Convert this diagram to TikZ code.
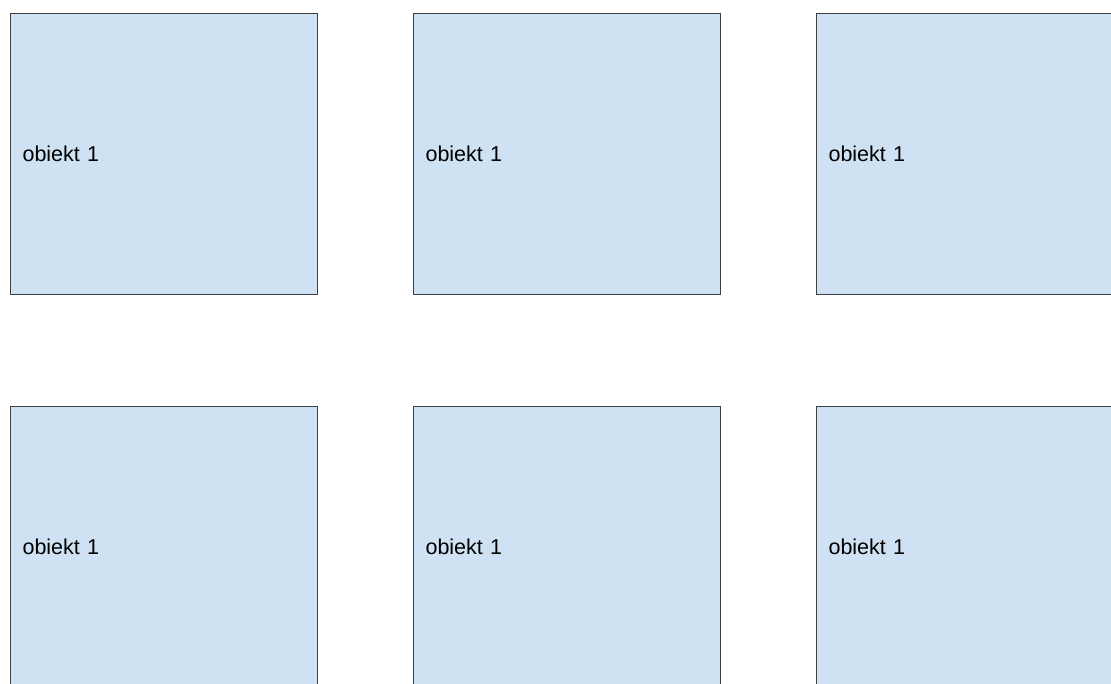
\documentclass[tikz,border=0pt]{standalone}
\usepackage{fontspec}
\setmainfont{Liberation Sans}
\usepackage{tikz}
\usetikzlibrary{positioning}
\definecolor{boxfill}{HTML}{CFE2F3}
\definecolor{boxline}{HTML}{3C4043}
\tikzset{objbox/.style={draw=boxline,line width=1.1pt,fill=boxfill,anchor=north west,
 text width=283pt,align=left,inner xsep=12pt,inner ysep=0pt,minimum height=281pt,
 font=\fontsize{21.5}{25}\selectfont}}

\begin{document}
\begin{tikzpicture}[x=1pt,y=-1pt]
\clip (0,0) rectangle (1111,684);
\fill[white] (0,0) rectangle (1111,684);
\node[objbox] (o11) at (10,13) {obiekt 1};
\node[objbox] (o12) at (413,13) {obiekt 1};
\node[objbox] (o13) at (816,13) {obiekt 1};
\node[objbox] (o21) at (10,406) {obiekt 1};
\node[objbox] (o22) at (413,406) {obiekt 1};
\node[objbox] (o23) at (816,406) {obiekt 1};
\end{tikzpicture}
\end{document}
